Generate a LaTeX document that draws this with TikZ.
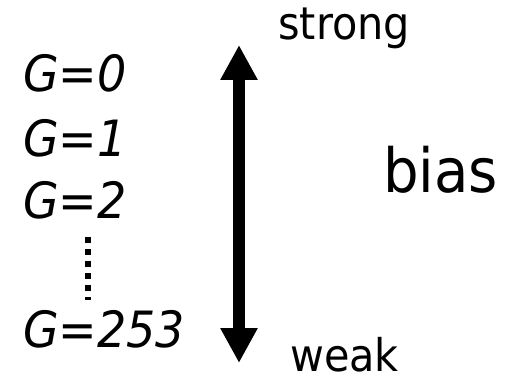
\documentclass[tikz,border=0pt]{standalone}
\usepackage{fontspec}
\setmainfont[FakeStretch=0.92]{DejaVu Sans}
\usepackage{tikz}
\usetikzlibrary{arrows.meta,positioning}

\begin{document}
\begin{tikzpicture}[x=1pt,y=1pt,
  level/.style={anchor=base west,inner sep=0pt,font=\fontsize{50}{60}\selectfont\itshape},
  side/.style={anchor=base west,inner sep=0pt,font=\fontsize{45}{54}\selectfont},
  big/.style={anchor=base west,inner sep=0pt,font=\fontsize{61}{72}\selectfont},
  dir/.style={line width=12pt,{Triangle[width=35pt,length=35pt]}-{Triangle[width=35pt,length=35pt]}},
  dots/.style={line width=6pt,dash pattern=on 6pt off 6pt}]
  \useasboundingbox (0,0) rectangle (508,375);
  % levels of G
  \node[level] (g0) at (23,283) {G=0};
  \node[level] (g1) at (23,218) {G=1};
  \node[level] (g2) at (23,157) {G=2};
  \node[level] (g253) at (23,28) {G=253};
  \coordinate (dtop) at (88,138);
  \coordinate (dbot) at (88,75);
  \draw[dots] (dtop) -- (dbot);
  % bias arrow
  \coordinate (strongend) at (239,330);
  \coordinate (weakend) at (239,12);
  \draw[dir] (weakend) -- (strongend);
  \node[side] (strong) at (278,335) {strong};
  \node[side,text depth=0pt] (weak) at (290,4) {weak};
  \node[big] (bias) at (383,182) {bias};
\end{tikzpicture}
\end{document}
